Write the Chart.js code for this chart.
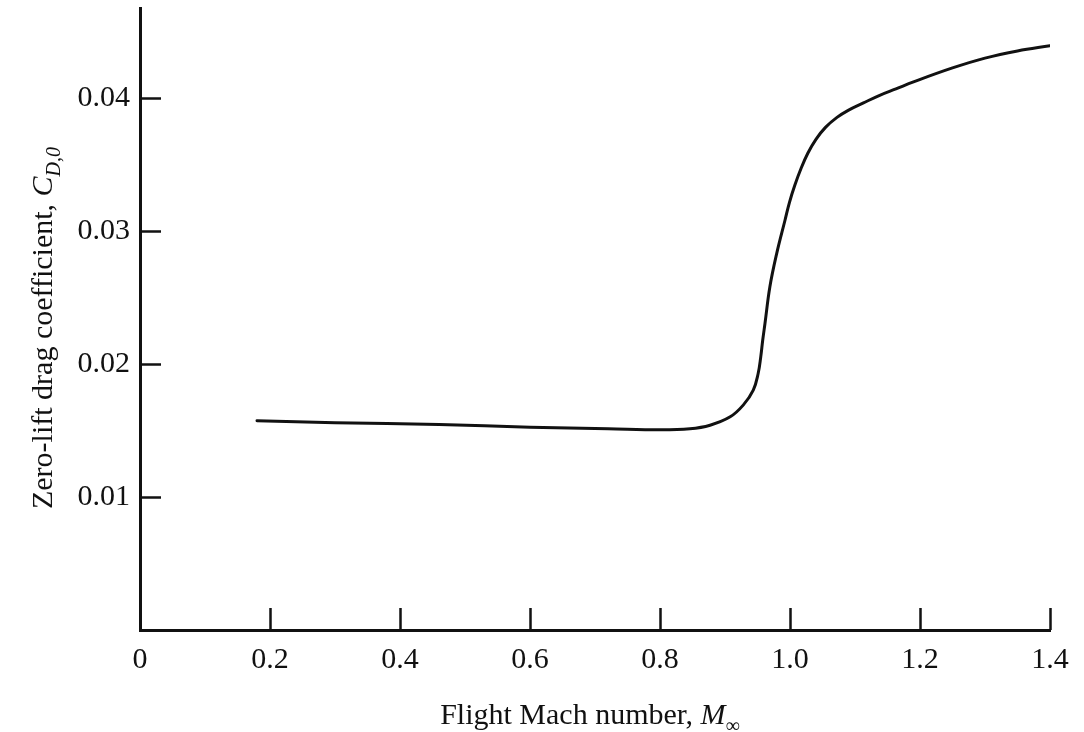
<!DOCTYPE html>
<html>
<head>
<meta charset="utf-8">
<script src="https://cdn.jsdelivr.net/npm/chart.js@4.4.1/dist/chart.umd.min.js"></script>
<style>
  html, body { margin: 0; padding: 0; background: #ffffff; }
  #wrap { width: 1084px; height: 732px; position: relative; }
</style>
</head>
<body>
<div id="wrap"><canvas id="c" width="1084" height="732"></canvas></div>
<script>
// ---- data ----
const machNumbers = [0.18, 0.30, 0.46, 0.60, 0.72, 0.80, 0.846, 0.877, 0.908, 0.928, 0.9435, 0.951, 0.955, 0.958, 0.9615, 0.969, 0.9795, 0.9923, 0.9992, 1.0074, 1.0171, 1.0274, 1.0399, 1.0546, 1.0723, 1.0895, 1.113, 1.138, 1.163, 1.19, 1.25, 1.30, 1.35, 1.40];
const dragCoefficients = [0.01574, 0.01560, 0.01547, 0.01526, 0.01514, 0.01506, 0.01514, 0.01541, 0.01604, 0.01692, 0.01805, 0.01930, 0.02055, 0.02180, 0.02306, 0.02581, 0.02832, 0.03083, 0.03218, 0.03346, 0.03474, 0.03587, 0.03692, 0.03782, 0.03857, 0.03910, 0.03966, 0.04023, 0.04071, 0.04124, 0.04229, 0.04303, 0.04357, 0.04396];

const xTickValues = [0, 0.2, 0.4, 0.6, 0.8, 1.0, 1.2, 1.4];
const xTickLabels = ['0', '0.2', '0.4', '0.6', '0.8', '1.0', '1.2', '1.4'];
const yTickValues = [0.01, 0.02, 0.03, 0.04];
const yTickLabels = ['0.01', '0.02', '0.03', '0.04'];

const xTitleParts = [
  { text: 'Flight Mach number, ', italic: false, sub: false },
  { text: 'M', italic: true, sub: false },
  { text: '\u221E', italic: false, sub: true }
];
const yTitleParts = [
  { text: 'Zero-lift drag coefficient, ', italic: false, sub: false },
  { text: 'C', italic: true, sub: false },
  { text: 'D,0', italic: true, sub: true }
];

// ---- styling ----
const FONT_FAMILY = "'Liberation Serif', 'Times New Roman', serif";
const FONT_SIZE = 30;
const INK = '#111111';

const points = machNumbers.map((m, i) => ({ x: m, y: dragCoefficients[i] }));

function drawRichText(ctx, parts, size) {
  const subSize = Math.round(size * 0.68);
  const setFont = p => { ctx.font = (p.italic ? 'italic ' : '') + (p.sub ? subSize : size) + 'px ' + FONT_FAMILY; };
  const widths = parts.map(p => { setFont(p); return ctx.measureText(p.text).width; });
  const total = widths.reduce((a, b) => a + b, 0);
  let x = -total / 2;
  parts.forEach((p, i) => {
    setFont(p);
    ctx.fillText(p.text, x, p.sub ? size * 0.28 : 0);
    x += widths[i];
  });
}

const decorPlugin = {
  id: 'decor',
  afterDraw(chart) {
    const ctx = chart.ctx;
    const xs = chart.scales.x, ys = chart.scales.y;
    const area = chart.chartArea;
    ctx.save();
    ctx.strokeStyle = INK;
    ctx.lineWidth = 2.5;
    // inward tick marks
    yTickValues.forEach(v => {
      const py = Math.round(ys.getPixelForValue(v)) + 0.5;
      ctx.beginPath();
      ctx.moveTo(area.left, py);
      ctx.lineTo(area.left + 21, py);
      ctx.stroke();
    });
    xTickValues.forEach(v => {
      if (v === 0) return;
      const px = Math.round(xs.getPixelForValue(v)) + 0.5;
      ctx.beginPath();
      ctx.moveTo(px, area.bottom);
      ctx.lineTo(px, area.bottom - 22);
      ctx.stroke();
    });
    // axis titles
    ctx.fillStyle = INK;
    ctx.textBaseline = 'alphabetic';
    ctx.textAlign = 'left';
    ctx.save();
    ctx.translate(590, 724);
    drawRichText(ctx, xTitleParts, FONT_SIZE);
    ctx.restore();
    ctx.save();
    ctx.translate(52, 328);
    ctx.rotate(-Math.PI / 2);
    drawRichText(ctx, yTitleParts, FONT_SIZE);
    ctx.restore();
    ctx.restore();
  }
};

new Chart(document.getElementById('c'), {
  type: 'line',
  data: {
    datasets: [{
      data: points,
      borderColor: INK,
      borderWidth: 3,
      pointRadius: 0,
      fill: false,
      tension: 0.4,
      borderCapStyle: 'round',
      borderJoinStyle: 'round'
    }]
  },
  options: {
    responsive: false,
    animation: false,
    devicePixelRatio: 1,
    layout: { padding: { top: 8, right: 34, left: 0, bottom: 0 } },
    plugins: { legend: { display: false }, tooltip: { enabled: false }, title: { display: false } },
    scales: {
      x: {
        type: 'linear',
        min: 0,
        max: 1.4,
        afterBuildTicks: s => { s.ticks = xTickValues.map(v => ({ value: v })); },
        afterFit: s => { s.height = 102; s.paddingLeft = 0; s.paddingRight = 0; },
        ticks: {
          callback: (v, i) => xTickLabels[i],
          font: { family: FONT_FAMILY, size: FONT_SIZE },
          color: INK,
          padding: 12,
          maxRotation: 0,
          autoSkip: false
        },
        grid: { display: false, drawTicks: false },
        border: { display: true, color: INK, width: 3 }
      },
      y: {
        type: 'linear',
        min: 0,
        max: 0.0468,
        afterBuildTicks: s => { s.ticks = yTickValues.map(v => ({ value: v })); },
        afterFit: s => { s.width = 140; s.paddingTop = 0; s.paddingBottom = 0; },
        ticks: {
          callback: (v, i) => yTickLabels[i],
          font: { family: FONT_FAMILY, size: FONT_SIZE },
          color: INK,
          padding: 10,
          autoSkip: false
        },
        grid: { display: false, drawTicks: false },
        border: { display: true, color: INK, width: 3 }
      }
    }
  },
  plugins: [decorPlugin]
});
</script>
</body>
</html>
